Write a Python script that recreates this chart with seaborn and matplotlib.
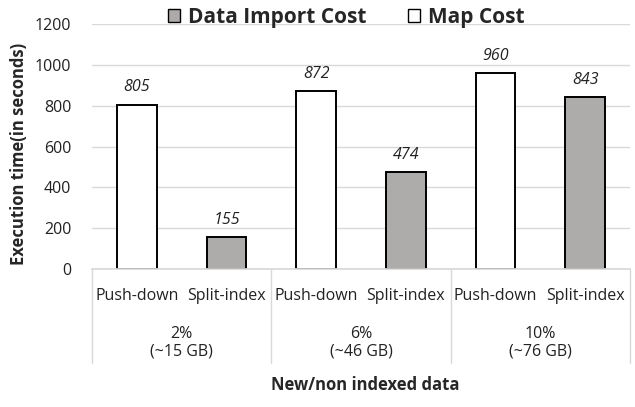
import pandas as pd
import matplotlib.pyplot as plt
import seaborn as sns
from matplotlib.patches import Patch
from matplotlib.lines import Line2D

# data
groups = ['2%\n(~15 GB)', '6%\n(~46 GB)', '10%\n(~76 GB)']
methods = ['Push-down', 'Split-index']
costs = ['Map Cost', 'Data Import Cost']
values = [805, 155, 872, 474, 960, 843]

sns.set_theme(style="white")
plt.rcParams['font.family'] = ['Open Sans', 'DejaVu Sans']

rows = []
i = 0
for g in groups:
    for m, c in zip(methods, costs):
        rows.append({'key': f'{g}|{m}', 'Method': m, 'Group': g, 'Cost': c, 'Value': values[i]})
        i += 1
df = pd.DataFrame(rows)

palette = {'Map Cost': 'white', 'Data Import Cost': '#AEAAAA'}

fig = plt.figure(figsize=(6.35, 4.07), dpi=100)
ax = fig.add_axes([0.145, 0.339, 0.847, 0.602])

sns.barplot(data=df, x='key', y='Value', hue='Cost', palette=palette, dodge=False,
            edgecolor='black', linewidth=1.4, width=0.44, ax=ax, legend=False)

ax.set_ylim(0, 1200)
ax.set_yticks(range(0, 1201, 200))
ax.yaxis.grid(True, color='#D9D9D9', linewidth=1)
ax.set_axisbelow(True)
for s in ['top', 'right', 'left']:
    ax.spines[s].set_visible(False)
ax.spines['bottom'].set_color('#D9D9D9')
ax.tick_params(axis='y', length=0, labelsize=11.5, colors='#222222', pad=15)
ax.tick_params(axis='x', length=0, labelsize=11.5, colors='#222222', pad=14)
ax.set_xticks(range(len(df)))
ax.set_xticklabels(df['Method'])
ax.set_xlim(-0.5, len(df) - 0.5)

ax.set_ylabel('Execution time(in seconds)', fontsize=12, fontweight='bold')
ax.yaxis.set_label_coords(-0.12, 0.47)
ax.set_xlabel('')

# value labels
for idx, v in enumerate(df['Value']):
    ax.text(idx, v + 45, str(v), ha='center', va='bottom', fontsize=11.5, style='italic', color='#222222')

# group labels and separators below axis
trans = ax.get_xaxis_transform()
for gi, g in enumerate(groups):
    ax.text(gi * 2 + 0.5, -0.30, g, transform=trans, ha='center', va='center',
            fontsize=11.5, color='#222222', linespacing=1.1)
for b in [-0.5, 1.5, 3.5, 5.5]:
    ax.add_line(Line2D([b, b], [0, -0.385], transform=trans, color='#D9D9D9',
                       linewidth=1, clip_on=False))

fig.text(0.575, 0.055, 'New/non indexed data', ha='center', va='center',
         fontsize=12, fontweight='bold')

handles = [Patch(facecolor='#AEAAAA', edgecolor='black', label='Data Import Cost'),
           Patch(facecolor='white', edgecolor='black', label='Map Cost')]
fig.legend(handles=handles, loc='center', bbox_to_anchor=(0.545, 0.958), ncol=2,
           frameon=False, handlelength=0.6, handleheight=0.6, handletextpad=0.35,
           columnspacing=2.0, prop={'weight': 'bold', 'size': 15})

plt.savefig('out.png', dpi=100)
